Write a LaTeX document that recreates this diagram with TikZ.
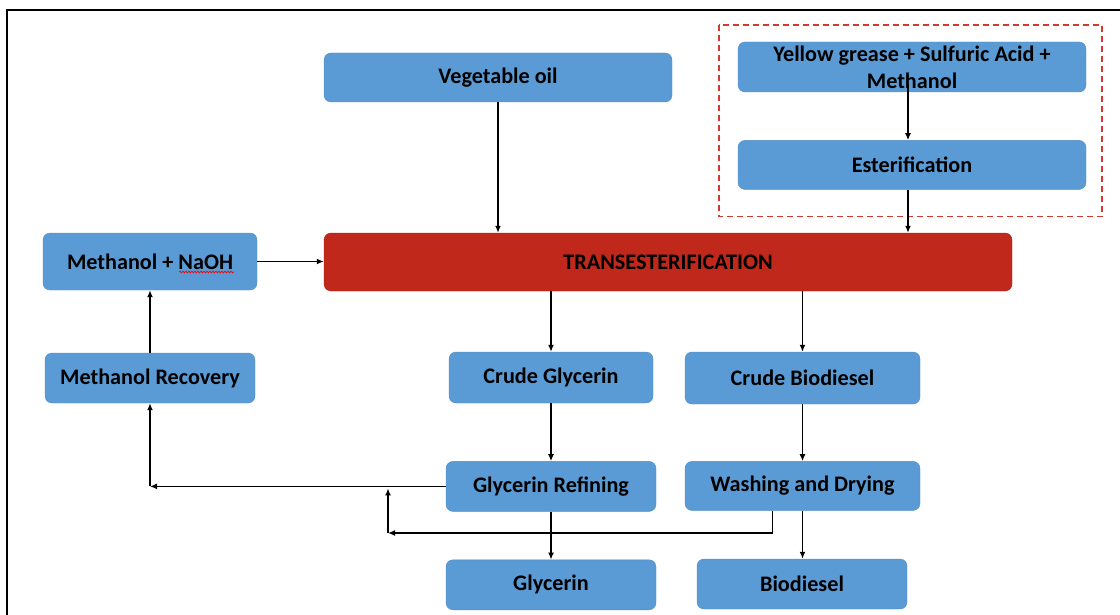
\documentclass[tikz,border=0pt]{standalone}
\usepackage{fontspec}
\setmainfont{Carlito}
\usetikzlibrary{positioning,arrows.meta,decorations.pathmorphing}

\definecolor{boxblue}{HTML}{5B9BD5}
\definecolor{boxedge}{HTML}{4F8CC4}
\definecolor{transred}{HTML}{C0281C}
\definecolor{transedge}{HTML}{A8231A}
\definecolor{dashred}{HTML}{D03A30}

\tikzset{
  stage/.style={draw=boxedge, fill=boxblue, rounded corners=7pt, minimum height=50pt,
    inner sep=0pt, align=center, text=black,
    font=\bfseries\fontsize{22.2}{27}\selectfont},
  flow/.style={line width=1.8pt, -{Latex[length=7pt,width=6pt]}},
}

\begin{document}
\begin{tikzpicture}[x=1pt,y=-1pt]
  \useasboundingbox (0,0) rectangle (1120,615);
  \draw[line width=2.2pt] (7,615) -- (7,10) -- (1120,10);

  % feed side
  \node[stage, minimum width=348pt, minimum height=49pt] (veg) at (498,77.5) {Vegetable oil};
  \node[stage, minimum width=348pt] (yg) at (912,67) {Yellow grease + Sulfuric Acid +\\Methanol};
  \node[stage, minimum width=348pt, minimum height=49pt, below=48pt of yg] (est) {Esterification};
  \draw[dashred, line width=1.8pt, dash pattern=on 6pt off 4pt]
    ([shift={(-19,-17)}]yg.north west) rectangle ([shift={(16,27)}]est.south east);

  \node[stage, draw=transedge, fill=transred, minimum width=688pt, minimum height=58pt] (trans) at (668,262) {TRANSESTERIFICATION};
  \node[stage, minimum width=214pt, minimum height=57pt] (naoh) at (150,261.5) {Methanol + NaOH};
  \draw[red, line width=0.7pt, decorate, decoration={snake, segment length=3pt, amplitude=0.9pt}]
    (179,272) -- (234,272);
  \node[stage, minimum width=210pt] (mrec) at (150,378) {Methanol Recovery};

  % products
  \node[stage, minimum width=204pt, minimum height=51pt] (cgly) at (551,377.5) {Crude Glycerin};
  \node[stage, minimum width=235pt, minimum height=52pt] (cbio) at (802.5,378) {Crude Biodiesel};
  \node[stage, minimum width=210pt, below=58pt of cgly] (gref) {Glycerin Refining};
  \node[stage, minimum width=235pt, minimum height=49pt, below=57pt of cbio] (wash) {Washing and Drying};
  \node[stage, minimum width=210pt, below=48pt of gref] (gly) {Glycerin};
  \node[stage, minimum width=210pt] (bio) at (802,584) {Biodiesel};

  \coordinate (ret) at (388,533);

  \draw[flow] (veg.south) -- (veg.south |- trans.north);
  \draw[flow] ([xshift=-4pt,yshift=8pt]yg.south) -- ([xshift=-4pt]est.north);
  \draw[flow] ([xshift=-4pt]est.south) -- ([xshift=-4pt]est.south |- trans.north);
  \draw[flow] (naoh.east) -- (naoh.east -| trans.west);
  \draw[flow] (mrec) -- (naoh);
  \draw[flow] (cgly.north |- trans.south) -- (cgly.north);
  \draw[flow] (cbio.north |- trans.south) -- (cbio.north);
  \draw[flow] (cgly) -- (gref);
  \draw[flow] (cbio) -- (wash);
  \draw[flow] (gref) -- (gly);
  \draw[flow] (wash.south) -- (wash.south |- bio.north);
  \draw[flow] (gref.west) -- (gref.west -| mrec.south);
  \draw[flow] (gref.west -| mrec.south) -- (mrec.south);
  \draw[flow] ([xshift=-30pt]wash.south) |- (ret);
  \draw[flow, shorten >=2pt] (ret) -- (ret |- gref.west);
\end{tikzpicture}
\end{document}
